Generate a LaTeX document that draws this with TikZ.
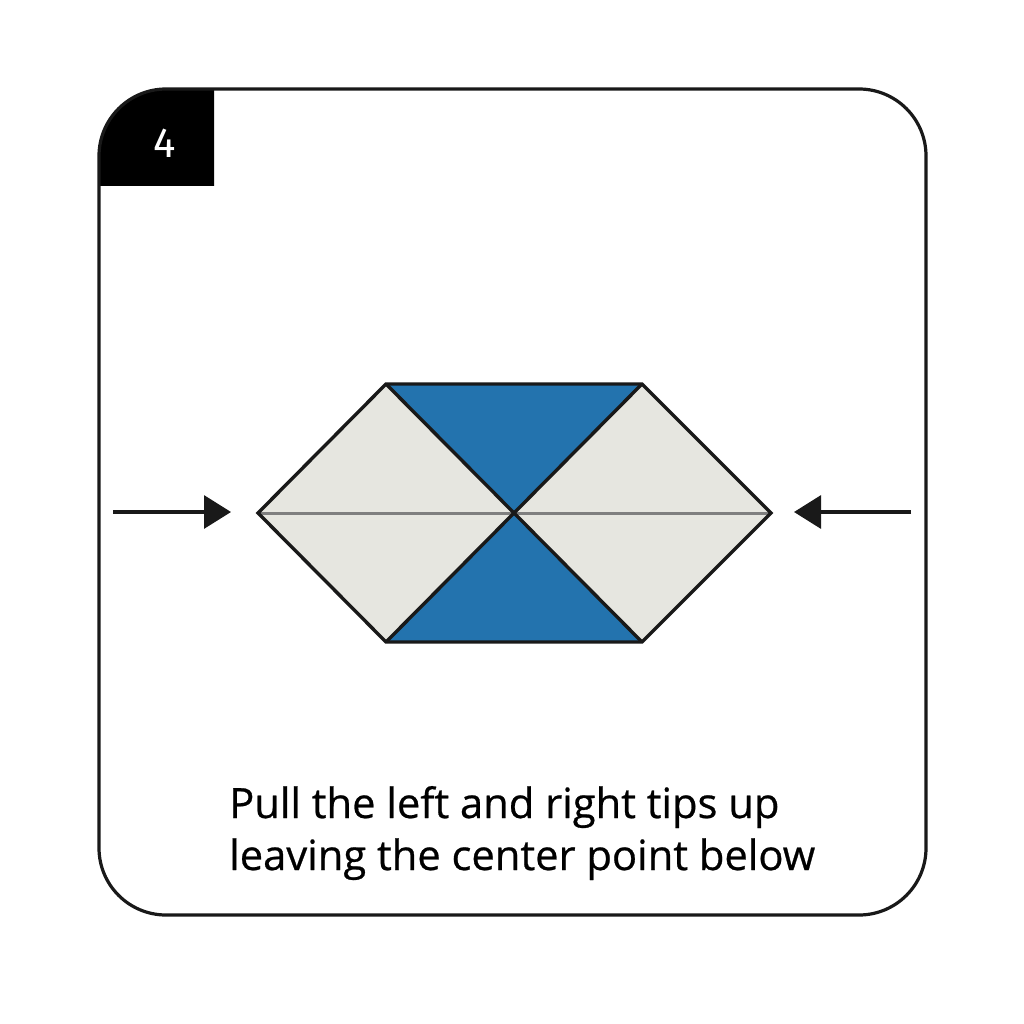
\documentclass[tikz,border=0pt]{standalone}
\usepackage{fontspec}
\setmainfont{Open Sans}[FakeBold=0.6]
\newfontfamily\numfont{Fira Sans}
\usetikzlibrary{arrows.meta}
\definecolor{foldblue}{HTML}{2373AE}
\definecolor{paper}{HTML}{E6E6E0}
\definecolor{midgrey}{HTML}{7F7F7F}
\tikzset{
  frame/.style={draw=black!90, line width=3.2pt},
  edge/.style={draw=black!90, line width=3.4pt, line join=miter},
  crease/.style={draw=midgrey, line width=3pt},
  pusharrow/.style={draw=black!90, line width=3.2pt, -{Triangle[length=27pt,width=33pt]}},
  caption/.style={font=\fontsize{41.7}{52}\selectfont, align=left, anchor=base west, inner sep=0pt, text=black}
}
\begin{document}
\begin{tikzpicture}[x=1pt,y=-1pt]
\useasboundingbox (0,0) rectangle (1024,1024);
% badge
\fill[black] (214,89) -- (168,89) arc[start angle=270,end angle=180,radius=69] -- (99,186) -- (214,186) -- cycle;
\node[text=white, font=\numfont\fontsize{42}{42}\selectfont] (num) at (165,143) {4};
% frame
\draw[frame, rounded corners=67pt] (99,89) rectangle (926,915);
% hexagon pieces
\coordinate (L) at (258,513);
\coordinate (TL) at (386,384);
\coordinate (TR) at (642,384);
\coordinate (R) at (771,513);
\coordinate (BR) at (642,642);
\coordinate (BL) at (386,642);
\coordinate (C) at (514,513);
\fill[paper] (L) -- (TL) -- (TR) -- (R) -- (BR) -- (BL) -- cycle;
\fill[foldblue] (TL) -- (TR) -- (C) -- cycle;
\fill[foldblue] (BL) -- (BR) -- (C) -- cycle;
\draw[crease] (L) -- (R);
\draw[edge] (TL) -- (BR);
\draw[edge] (TR) -- (BL);
\draw[edge] (L) -- (TL) -- (TR) -- (R) -- (BR) -- (BL) -- cycle;
% arrows
\coordinate (la) at (113,512);
\coordinate (lb) at (231,512);
\coordinate (ra) at (911,512);
\coordinate (rb) at (794,512);
\draw[pusharrow] (la) -- (lb);
\draw[pusharrow] (ra) -- (rb);
% caption
\node[caption] (cap1) at (229,818) {Pull the left and right tips up};
\node[caption] (cap2) at (229,870) {leaving the center point below};
\end{tikzpicture}
\end{document}
